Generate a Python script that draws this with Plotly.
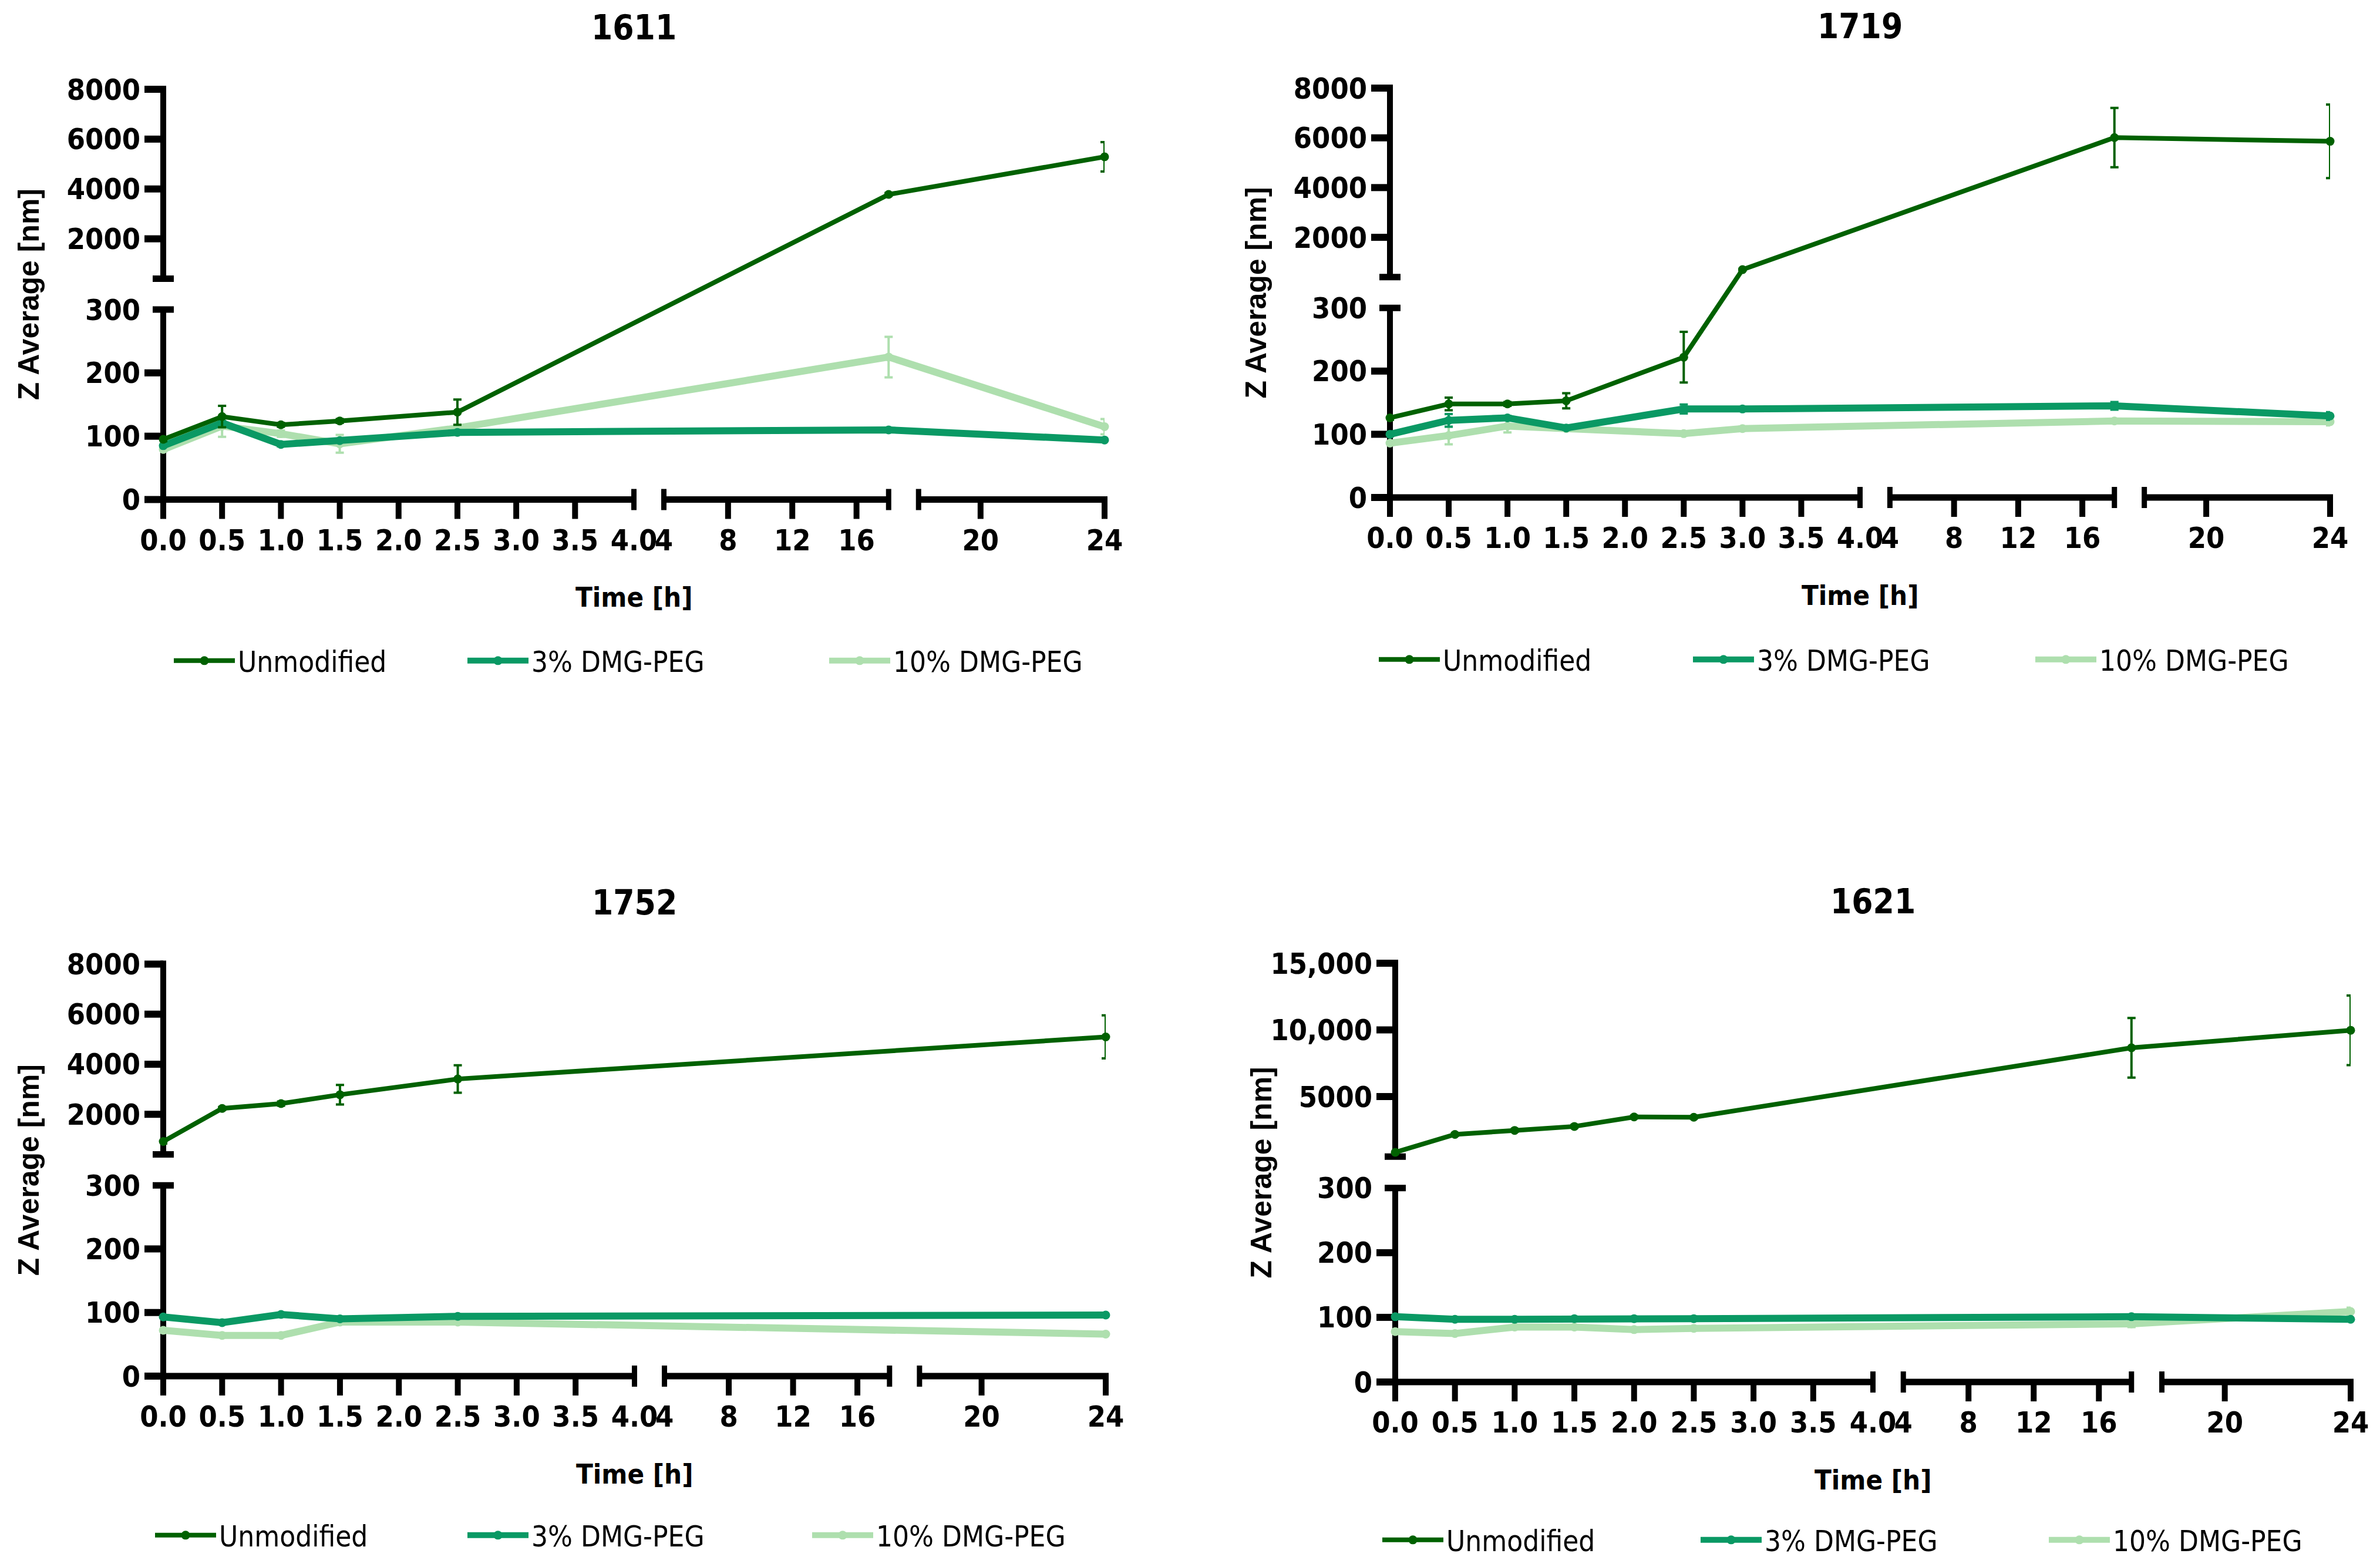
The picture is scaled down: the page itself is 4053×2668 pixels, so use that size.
import plotly.graph_objects as go

W, H = 4053, 2668
OFF = 8                      # the page body margin that the figure div sits in
FW, FH = W - OFF, H - OFF    # figure size so that it exactly fills the window

# ---------------- data ----------------
panel_titles = ["1611", "1719", "1752", "1621"]
series_names = ["Unmodified", "3% DMG-PEG", "10% DMG-PEG"]

t_1611 = [0, 0.5, 1.0, 1.5, 2.5, 18, 24]
unmod_1611 = [95, 131, 118, 124, 138, 3780, 5290]
unmod_sd_1611 = [3, 17, 3, 3, 20, 60, 590]
peg3_1611 = [85, 121, 87, 93, 106, 110, 94]
peg3_sd_1611 = [2, 3, 3, 2, 2, 2, 2]
peg10_1611 = [79, 116, 104, 88, 113, 225, 115]
peg10_sd_1611 = [3, 17, 5, 14, 4, 32, 12]

t_1719 = [0, 0.5, 1.0, 1.5, 2.5, 3.0, 18, 24]
unmod_1719 = [126, 148, 148, 153, 222, 700, 6010, 5860]
unmod_sd_1719 = [3, 10, 3, 12, 40, 30, 1190, 1480]
peg3_1719 = [100, 122, 126, 110, 140, 140, 145, 129]
peg3_sd_1719 = [3, 10, 3, 3, 7, 3, 6, 6]
peg10_1719 = [86, 98, 113, 109, 101, 109, 121, 120]
peg10_sd_1719 = [3, 14, 10, 3, 3, 3, 3, 6]

t_1752 = [0, 0.5, 1.0, 1.5, 2.5, 24]
unmod_1752 = [912, 2233, 2427, 2781, 3410, 5091]
unmod_sd_1752 = [80, 60, 80, 390, 550, 860]
peg3_1752 = [93, 84, 97, 90, 94, 96]
peg3_sd_1752 = [2, 2, 2, 2, 2, 3]
peg10_1752 = [72, 64, 64, 85, 85, 66]
peg10_sd_1752 = [2, 2, 2, 2, 2, 2]

t_1621 = [0, 0.5, 1.0, 1.5, 2.0, 2.5, 18, 24]
unmod_1621 = [820, 2163, 2462, 2760, 3470, 3450, 8658, 9972]
unmod_sd_1621 = [100, 100, 100, 100, 100, 100, 2240, 2610]
peg3_1621 = [101, 97, 97, 98, 98, 98, 101, 97]
peg3_sd_1621 = [2, 2, 2, 2, 2, 2, 2, 2]
peg10_1621 = [78, 75, 85, 85, 81, 83, 90, 109]
peg10_sd_1621 = [2, 2, 2, 2, 2, 2, 5, 6]

x_tick_hours_seg1 = [0, 0.5, 1.0, 1.5, 2.0, 2.5, 3.0, 3.5, 4.0]
x_tick_text_seg1 = ["0.0", "0.5", "1.0", "1.5", "2.0", "2.5", "3.0", "3.5", "4.0"]
x_tick_hours_seg2 = [4, 8, 12, 16]
x_tick_text_seg2 = ["4", "8", "12", "16"]
x_tick_hours_seg3 = [20, 24]
x_tick_text_seg3 = ["20", "24"]

y_ticks_low = [0, 100, 200, 300]
y_text_low = ["0", "100", "200", "300"]
y_ticks_up_8000 = [2000, 4000, 6000, 8000]
y_text_up_8000 = ["2000", "4000", "6000", "8000"]
y_ticks_up_15000 = [5000, 10000, 15000]
y_text_up_15000 = ["5000", "10,000", "15,000"]

# ---------------- styling ----------------
colors = ["#006100", "#0a9964", "#aedfae"]
line_w = [8, 12, 12]
marker_sz = [15, 15, 15]
NARROW = "DejaVu Sans Condensed, DejaVu Sans, sans-serif"
WIDE = "Liberation Sans, Arial, sans-serif"
TICK_FONT = dict(family=NARROW, size=50, color="black", weight="bold")

# broken-axis scales (hours -> axis fraction, value -> axis fraction)
X_SEGS = [(0.0, 4.0, 0.0, 0.5), (4.0, 18.0, 0.5318, 0.7706), (18.0, 24.0, 0.8024, 1.0)]
Y_LOW_TOP, Y_UP_BOT = 0.4631, 0.5383


def xs(t, seg=None):
    if seg is not None:
        a, b, fa, fb = X_SEGS[seg]
        return fa + (t - a) / (b - a) * (fb - fa)
    for a, b, fa, fb in X_SEGS:
        if t <= b:
            return fa + (t - a) / (b - a) * (fb - fa)
    a, b, fa, fb = X_SEGS[-1]
    return fa + (t - a) / (b - a) * (fb - fa)


def ysc(v, lo_up, top):
    if v <= 300:
        return v / 300.0 * Y_LOW_TOP
    if v < lo_up:
        return Y_LOW_TOP + (v - 300) / (lo_up - 300) * (Y_UP_BOT - Y_LOW_TOP)
    return Y_UP_BOT + (v - lo_up) / (top - lo_up) * (1 - Y_UP_BOT)


def pxx(x):
    return (x - OFF) / FW


def pxy(y):
    return 1 - (y - OFF) / FH


panels = [
    dict(title=panel_titles[0], t=t_1611,
         vals=[unmod_1611, peg3_1611, peg10_1611], sds=[unmod_sd_1611, peg3_sd_1611, peg10_sd_1611],
         up_ticks=y_ticks_up_8000, up_text=y_text_up_8000, lo_up=400, top=8000,
         x0=278, x1=1881, y0=850.5, y1=152, leg_y=1135, leg_x=[301, 801, 1417]),
    dict(title=panel_titles[1], t=t_1719,
         vals=[unmod_1719, peg3_1719, peg10_1719], sds=[unmod_sd_1719, peg3_sd_1719, peg10_sd_1719],
         up_ticks=y_ticks_up_8000, up_text=y_text_up_8000, lo_up=400, top=8000,
         x0=2367, x1=3968, y0=847, y1=150, leg_y=1133, leg_x=[2353, 2888, 3471]),
    dict(title=panel_titles[2], t=t_1752,
         vals=[unmod_1752, peg3_1752, peg10_1752], sds=[unmod_sd_1752, peg3_sd_1752, peg10_sd_1752],
         up_ticks=y_ticks_up_8000, up_text=y_text_up_8000, lo_up=400, top=8000,
         x0=278, x1=1883, y0=2343, y1=1641.5, leg_y=2624, leg_x=[269, 801, 1388]),
    dict(title=panel_titles[3], t=t_1621,
         vals=[unmod_1621, peg3_1621, peg10_1621], sds=[unmod_sd_1621, peg3_sd_1621, peg10_sd_1621],
         up_ticks=y_ticks_up_15000, up_text=y_text_up_15000, lo_up=500, top=15000,
         x0=2376, x1=4003, y0=2353, y1=1640, leg_y=2632, leg_x=[2359, 2901, 3494]),
]

fig = go.Figure()
shapes = []
annotations = []
layout = {}


def seg(xa, ya, xb, yb, w):
    shapes.append(dict(type="line", xref="paper", yref="paper", layer="below",
                       x0=pxx(xa), y0=pxy(ya), x1=pxx(xb), y1=pxy(yb),
                       line=dict(color="black", width=w)))


for k, p in enumerate(panels, start=1):
    xa_name = "x" if k == 1 else f"x{k}"
    ya_name = "y" if k == 1 else f"y{k}"
    lo_up, top = p["lo_up"], p["top"]

    # traces (light first so darker ones lie on top)
    for s in [2, 1, 0]:
        leg_n = (k - 1) * 3 + s + 1
        lname = "legend" if leg_n == 1 else f"legend{leg_n}"
        v = p["vals"][s]
        sd = p["sds"][s]
        yy = [ysc(a, lo_up, top) for a in v]
        eplus = [ysc(a + d, lo_up, top) - ysc(a, lo_up, top) for a, d in zip(v, sd)]
        eminus = [ysc(a, lo_up, top) - ysc(a - d, lo_up, top) for a, d in zip(v, sd)]
        fig.add_trace(go.Scatter(
            x=[xs(t) for t in p["t"]], y=yy, mode="lines+markers",
            name=series_names[s], legend=lname, showlegend=True,
            xaxis=xa_name, yaxis=ya_name, cliponaxis=False,
            line=dict(color=colors[s], width=line_w[s]),
            marker=dict(color=colors[s], size=marker_sz[s], symbol="circle"),
            error_y=dict(type="data", symmetric=False, array=eplus, arrayminus=eminus,
                         color=colors[s], thickness=4, width=7),
        ))
        layout[lname] = dict(
            x=pxx(p["leg_x"][s] - 10), y=pxy(p["leg_y"] - 10), xanchor="left", yanchor="middle",
            orientation="h", bgcolor="rgba(0,0,0,0)", itemwidth=104,
            font=dict(family=NARROW, size=49, color="black"),
        )

    # axes
    tickvals_x = [xs(t, 0) for t in x_tick_hours_seg1] + [xs(t, 1) for t in x_tick_hours_seg2] + \
                 [xs(t, 2) for t in x_tick_hours_seg3]
    ticktext_x = x_tick_text_seg1 + x_tick_text_seg2 + x_tick_text_seg3
    tickvals_y = [ysc(v, lo_up, top) for v in y_ticks_low] + [ysc(v, lo_up, top) for v in p["up_ticks"]]
    ticktext_y = y_text_low + p["up_text"]
    layout["xaxis" if k == 1 else f"xaxis{k}"] = dict(
        domain=[pxx(p["x0"]), pxx(p["x1"])], range=[0, 1], anchor=ya_name,
        showline=False, showgrid=False, zeroline=False, fixedrange=True, automargin=False,
        ticks="outside", ticklen=25, tickcolor="rgba(0,0,0,0)", tickangle=0,
        tickmode="array", tickvals=tickvals_x, ticktext=ticktext_x, tickfont=TICK_FONT,
    )
    layout["yaxis" if k == 1 else f"yaxis{k}"] = dict(
        domain=[pxy(p["y0"]), pxy(p["y1"])], range=[0, 1], anchor=xa_name,
        showline=False, showgrid=False, zeroline=False, fixedrange=True, automargin=False,
        ticks="outside", ticklen=28, tickcolor="rgba(0,0,0,0)",
        tickmode="array", tickvals=tickvals_y, ticktext=ticktext_y, tickfont=TICK_FONT,
    )

    # broken axis drawing (pixel geometry)
    X0, X1, Y0, Y1 = p["x0"], p["x1"], p["y0"], p["y1"]
    XP = lambda f: X0 + f * (X1 - X0)
    YP = lambda f: Y0 - f * (Y0 - Y1)
    for i, (a, b, fa, fb) in enumerate(X_SEGS):
        seg(XP(fa), Y0, XP(fb) + (5 if i == 2 else 0), Y0, 11)
    for f in [X_SEGS[0][3], X_SEGS[1][2], X_SEGS[1][3], X_SEGS[2][2]]:
        seg(XP(f), Y0 - 18, XP(f), Y0 + 18, 9)
    for t in x_tick_hours_seg1[:-1]:
        seg(XP(xs(t, 0)), Y0, XP(xs(t, 0)), Y0 + 33, 10)
    for t in x_tick_hours_seg2[1:]:
        seg(XP(xs(t, 1)), Y0, XP(xs(t, 1)), Y0 + 33, 10)
    for t in x_tick_hours_seg3:
        seg(XP(xs(t, 2)), Y0, XP(xs(t, 2)), Y0 + 33, 10)
    # y axis
    seg(X0, Y0, X0, YP(Y_LOW_TOP), 10)
    seg(X0, YP(Y_UP_BOT), X0, YP(1) - 6, 10)
    for f in [Y_LOW_TOP, Y_UP_BOT]:
        seg(X0 - 18, YP(f), X0 + 18, YP(f), 11)
    for v in y_ticks_low[:-1] + p["up_ticks"]:
        f = ysc(v, lo_up, top)
        seg(X0 - 32, YP(f), X0, YP(f), 12)

    # titles
    xc = (X0 + X1) / 2
    annotations.append(dict(text=p["title"], xref="paper", yref="paper", x=pxx(xc), y=pxy(Y1 - 105),
                            xanchor="center", yanchor="middle", showarrow=False,
                            font=dict(family=NARROW, size=58, color="black", weight="bold")))
    annotations.append(dict(text="Time [h]", xref="paper", yref="paper", x=pxx(xc), y=pxy(Y0 + 166),
                            xanchor="center", yanchor="middle", showarrow=False,
                            font=dict(family=NARROW, size=47, color="black", weight="bold")))
    annotations.append(dict(text="Z Average [nm]", xref="paper", yref="paper", x=pxx(X0 - 229),
                            y=pxy((Y0 + Y1) / 2), xanchor="center", yanchor="middle",
                            showarrow=False, textangle=-90,
                            font=dict(family=WIDE, size=50, color="black", weight="bold")))

fig.update_layout(
    width=FW, height=FH, autosize=False, showlegend=True,
    margin=dict(l=0, r=0, t=0, b=0, autoexpand=False),
    paper_bgcolor="white", plot_bgcolor="rgba(0,0,0,0)",
    shapes=shapes, annotations=annotations,
    **layout,
)

fig.write_html("out.html")
